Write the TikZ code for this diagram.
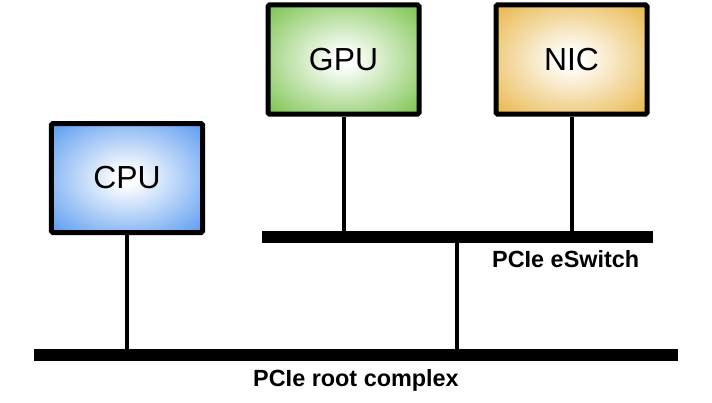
\documentclass[tikz,border=0pt]{standalone}
\usepackage{fontspec}
\setmainfont{Liberation Sans}
\usetikzlibrary{calc}
\definecolor{cpuedge}{RGB}{76,146,238}
\definecolor{gpuedge}{RGB}{112,190,64}
\definecolor{nicedge}{RGB}{230,176,58}
\pgfdeclareradialshading{cpuglow}{\pgfpointorigin}{color(0bp)=(white); color(3bp)=(white); color(38bp)=(cpuedge); color(75bp)=(cpuedge)}
\pgfdeclareradialshading{gpuglow}{\pgfpointorigin}{color(0bp)=(white); color(3bp)=(white); color(38bp)=(gpuedge); color(75bp)=(gpuedge)}
\pgfdeclareradialshading{nicglow}{\pgfpointorigin}{color(0bp)=(white); color(3bp)=(white); color(38bp)=(nicedge); color(75bp)=(nicedge)}

\begin{document}
\begin{tikzpicture}[x=1bp,y=1bp,
 dev/.style={draw=black,line width=5bp,rounded corners=1.5bp,minimum width=151bp,minimum height=109bp,
  inner sep=0pt,font=\fontsize{32}{38}\selectfont},
 bus/.style={line width=12bp},
 link/.style={line width=4bp},
 buslabel/.style={inner sep=0pt,font=\fontsize{23.5}{28}\selectfont\bfseries}]
\useasboundingbox (0,0) rectangle (712,402);
\node[dev,shading=cpuglow] (cpu) at (127,224) {CPU};
\node[dev,shading=gpuglow] (gpu) at (343.5,342.5) {GPU};
\node[dev,shading=nicglow] (nic) at (571.5,342.5) {NIC};
\coordinate (rootw) at (34,47);
\coordinate (roote) at (678,47);
\coordinate (sww) at (262,165);
\coordinate (swe) at (653,165);
\coordinate (swup) at (457,165);
\draw[bus] (rootw)--(roote);
\draw[bus] (sww)--(swe);
\draw[link] (cpu.south)--(cpu.south |- rootw);
\draw[link] (gpu.south)--(gpu.south |- sww);
\draw[link] (nic.south)--(nic.south |- sww);
\draw[link] (swup)--(swup |- rootw);
\node[buslabel,anchor=base west] (swname) at (492,135) {PCIe eSwitch};
\node[buslabel,anchor=base] (rootname) at (356,16) {PCIe root complex};
\end{tikzpicture}
\end{document}
